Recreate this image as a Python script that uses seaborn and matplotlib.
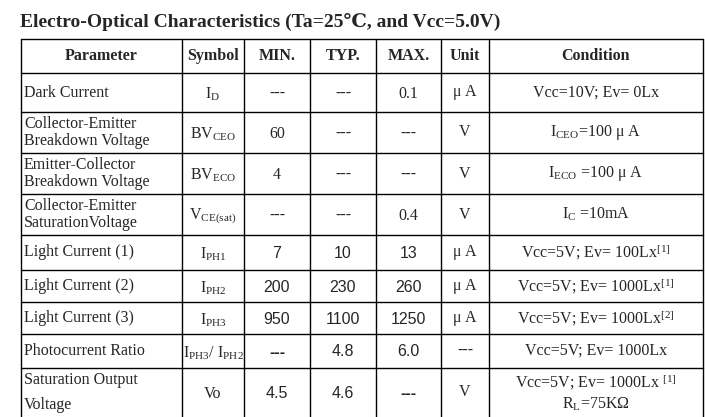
import matplotlib
matplotlib.use("Agg")
import matplotlib.pyplot as plt
import seaborn as sns

sns.set_style("white")
plt.rcParams['font.family'] = ['Liberation Serif', 'DejaVu Serif']
plt.rcParams['mathtext.fontset'] = 'custom'
plt.rcParams['mathtext.rm'] = 'Liberation Serif'
plt.rcParams['mathtext.it'] = 'Liberation Serif:italic'
plt.rcParams['mathtext.default'] = 'rm'

title = "Electro-Optical Characteristics (Ta=25\u2103, and Vcc=5.0V)"
headers = ["Parameter", "Symbol", "MIN.", "TYP.", "MAX.", "Unit", "Condition"]
parameters = ["Dark Current", "Collector-Emitter\nBreakdown Voltage", "Emitter-Collector\nBreakdown Voltage",
              "Collector-Emitter\nSaturationVoltage", "Light Current (1)", "Light Current (2)",
              "Light Current (3)", "Photocurrent Ratio", "Saturation Output\nVoltage"]
symbols = ["I$_{D}$", "BV$_{CEO}$", "BV$_{ECO}$", "V$_{CE(sat)}$", "I$_{PH1}$", "I$_{PH2}$",
           "I$_{PH3}$", "I$_{PH3}$/ I$_{PH2}$", "Vo"]
mins = ["---", "60", "4", "---", "7", "200", "950", "---", "4.5"]
typs = ["---", "---", "---", "---", "10", "230", "1100", "4.8", "4.6"]
maxs = ["0.1", "---", "---", "0.4", "13", "260", "1250", "6.0", "---"]
units = ["$\\mu$ A", "V", "V", "V", "$\\mu$ A", "$\\mu$ A", "$\\mu$ A", "---", "V"]
conditions = ["Vcc=10V; Ev= 0Lx", "I$_{CEO}$=100 $\\mu$ A", "I$_{ECO}$ =100 $\\mu$ A", "I$_{C}$ =10mA",
              "Vcc=5V; Ev= 100Lx$^{[1]}$", "Vcc=5V; Ev= 1000Lx$^{[1]}$", "Vcc=5V; Ev= 1000Lx$^{[2]}$",
              "Vcc=5V; Ev= 1000Lx", "Vcc=5V; Ev= 1000Lx $^{[1]}$\nR$_{L}$=75K\u03a9"]
sans_numeric_rows = [4, 5, 6, 7, 8]

col_x = [21, 182, 244, 310, 376, 441, 489, 703]
row_y = [39, 73, 112, 153, 194, 235, 270, 302, 334, 368, 430]

fig = plt.figure(figsize=(7.05, 4.17), dpi=100)
ax = fig.add_axes([0, 0, 1, 1])
ax.set_xlim(0, 705)
ax.set_ylim(417, 0)
ax.axis('off')

ax.text(20, 22, title, fontsize=14, fontweight='bold', va='center', ha='left')
for x in col_x:
    ax.plot([x, x], [row_y[0], row_y[-1]], color='black', lw=1)
for y in row_y:
    ax.plot([col_x[0], col_x[-1]], [y, y], color='black', lw=1)

def cx(i):
    return (col_x[i] + col_x[i + 1]) / 2

FS = 11.5
hy = (row_y[0] + row_y[1]) / 2
for i, h in enumerate(headers):
    ax.text(cx(i), hy, h, fontsize=FS, fontweight='bold', ha='center', va='center')

for r in range(len(parameters)):
    top, bot = row_y[r + 1], min(row_y[r + 2], 417)
    yc = (top + bot) / 2
    ls = 1.8 if r == 8 else 1.05
    ax.text(col_x[0] + 3, yc, parameters[r], fontsize=FS, ha='left', va='center', linespacing=ls)
    ax.text(cx(1), yc + 2, symbols[r], fontsize=FS, ha='center', va='center')
    fam = ['Liberation Sans'] if r in sans_numeric_rows else ['Liberation Serif']
    for i, vals in ((2, mins), (3, typs), (4, maxs)):
        w = 'bold' if vals[r] == '---' else 'normal'
        ax.text(cx(i), yc + 1, vals[r], fontsize=FS, ha='center', va='center', family=fam, fontweight=w)
    ax.text(cx(5), yc, units[r], fontsize=FS, ha='center', va='center',
            fontweight='bold' if units[r] == '---' else 'normal')
    ax.text(cx(6), yc, conditions[r], fontsize=FS, ha='center', va='center', linespacing=1.3)

fig.savefig("out.png", dpi=100)
